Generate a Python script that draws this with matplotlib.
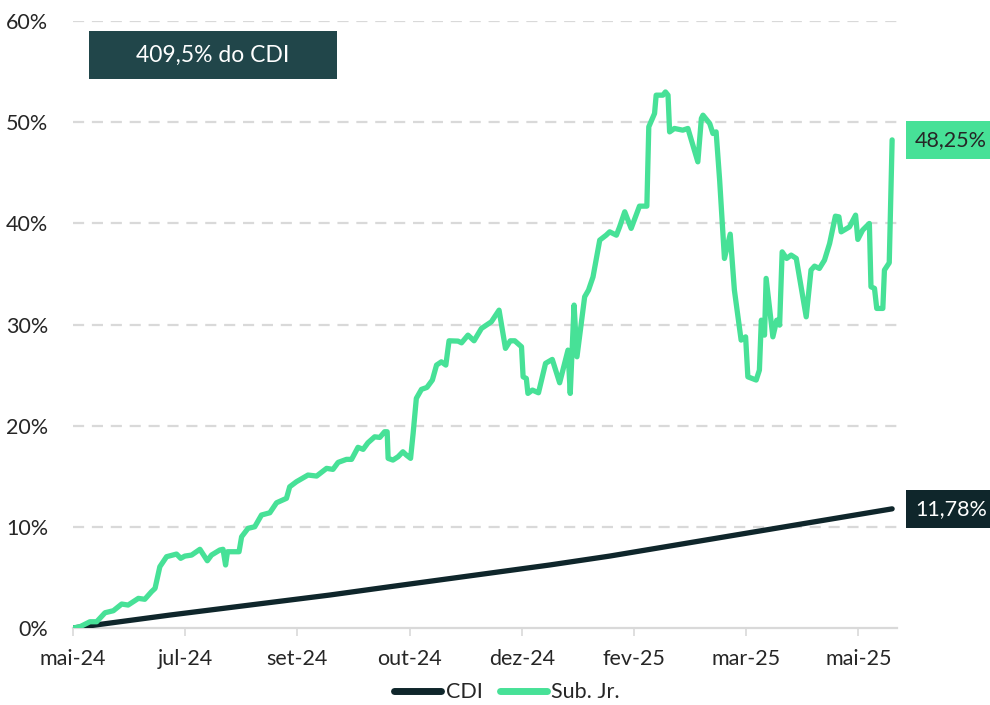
import matplotlib
matplotlib.use("Agg")
import matplotlib.pyplot as plt
import matplotlib.transforms as mtransforms
from matplotlib.patches import Rectangle

plt.rcParams['font.family'] = ['Lato', 'DejaVu Sans']

# ---- data (x = trading-day index, y = cumulative return %) ----
tick_labels = ["mai-24", "jul-24", "set-24", "out-24", "dez-24", "fev-25", "mar-25", "mai-25"]
tick_step = 35

sub_x = [0, 2.2, 5.3, 7.4, 10.0, 12.6, 15.2, 17.2, 20.4, 22.4, 24.5, 25.6, 27.1, 29.2, 32.3, 33.6,
         34.9, 37.0, 39.6, 41.9, 43.2, 45.8, 46.8, 47.6, 48.2, 51.8, 52.6, 54.6, 56.7, 58.8, 61.4,
         63.5, 66.6, 67.6, 69.7, 73.3, 76.0, 79.1, 81.1, 82.7, 85.3, 86.9, 88.9, 90.5, 92.0, 94.1,
         95.7, 97.2, 98.0, 98.3, 99.8, 101.4, 102.9, 104.0, 105.3, 106.1, 107.1, 108.7, 110.4,
         112.1, 113.4, 114.9, 116.3, 117.3, 120.1, 121.2, 123.2, 125.1, 127.4, 130.5, 132.9,
         134.9, 136.4, 137.8, 139.9, 140.4, 141.4, 141.9, 143.3, 145.2, 147.4, 149.5, 151.8,
         154.4, 155.1, 156.3, 157.2, 159.6, 160.8, 162.2, 164.3, 166.3, 167.4, 169.5, 170.5,
         172.1, 174.1, 176.7, 179.0, 179.6, 181.4, 181.9, 184.0, 184.8, 185.6, 186.1, 187.6,
         190.2, 191.8, 194.9, 196.0, 196.5, 198.6, 199.6, 200.6, 201.7, 203.2, 205.0, 206.3,
         208.4, 209.8, 210.5, 213.1, 214.1, 214.7, 215.7, 216.2, 218.3, 219.5, 220.4, 221.2,
         222.6, 224.0, 225.6, 228.7, 230.2, 231.3, 232.8, 234.4, 236.0, 237.8, 238.9, 239.6,
         242.2, 244.1, 244.8, 246.3, 248.4, 248.9, 250.0, 250.7, 252.6, 253.1, 254.6, 255.5]
sub_y = [0.0, 0.13, 0.62, 0.62, 1.51, 1.71, 2.37, 2.27, 2.93, 2.84, 3.59, 3.92, 6.06, 7.05, 7.31, 6.89,
         7.11, 7.21, 7.78, 6.65, 7.21, 7.71, 7.78, 6.23, 7.54, 7.54, 9.02, 9.85, 10.01, 11.17, 11.39,
         12.38, 12.82, 13.96, 14.46, 15.12, 15.02, 15.78, 15.68, 16.37, 16.67, 16.67, 17.86, 17.66, 18.31, 18.90,
         18.84, 19.40, 19.40, 16.77, 16.60, 16.93, 17.42, 17.09, 16.77, 19.24, 22.70, 23.59, 23.78,
         24.51, 25.99, 26.31, 25.99, 28.39, 28.36, 28.19, 28.95, 28.39, 29.61, 30.27, 31.42,
         27.64, 28.39, 28.39, 27.80, 24.83, 24.67, 23.19, 23.52, 23.25, 26.16, 26.55, 24.24,
         27.47, 23.19, 31.92, 26.81, 32.74, 33.40, 34.70, 38.34, 38.83, 39.16, 38.83, 39.65,
         41.14, 39.50, 41.70, 41.70, 49.54, 50.86, 52.67, 52.67, 52.99, 52.67, 49.04, 49.38,
         49.21, 49.38, 46.08, 50.37, 50.69, 49.87, 48.88, 49.04, 44.27, 36.53, 38.93, 33.40,
         28.46, 28.78, 24.83, 24.51, 25.49, 30.43, 28.95, 34.56, 28.78, 30.43, 29.94, 37.18,
         36.53, 36.86, 36.53, 30.76, 35.38, 35.77, 35.54, 36.36, 38.01, 40.71, 40.64, 39.16,
         39.65, 40.81, 38.41, 39.33, 39.99, 33.73, 33.57, 31.59, 31.59, 35.38, 36.10, 48.25]

cdi_x = [0, 30.2, 80.1, 98.8, 148.7, 167.4, 217.2, 226.6, 255.5]
cdi_y = [0.0, 1.28, 3.26, 4.08, 6.23, 7.11, 9.75, 10.25, 11.78]

badge_text = "409,5% do CDI"
sub_last_label = "48,25%"
cdi_last_label = "11,78%"

GREEN = "#47E197"
DARK = "#0F262B"
BADGE = "#21464A"
TEXT = "#262626"
GRID = "#D9D9D9"

fig = plt.figure(figsize=(9.9, 7.05), dpi=100)
ax = fig.add_axes([0.0737, 0.1092, 0.8323, 0.861])

ax.set_ylim(0, 60)
ax.set_xlim(0, 257)

ax.set_yticks(range(0, 61, 10))
ax.set_yticklabels([f"{v}%" for v in range(0, 61, 10)], fontsize=15.5, color=TEXT)
for v in range(10, 61, 10):
    ax.axhline(v, color=GRID, lw=1.6, dashes=(5, 3.5), zorder=0)

ax.set_xticks([i * tick_step for i in range(len(tick_labels))])
ax.set_xticklabels(tick_labels, fontsize=15.5, color=TEXT)
ax.tick_params(axis='x', length=6, width=1.2, color=GRID, pad=9)
ax.tick_params(axis='y', length=0, pad=18)
for s in ['top', 'right', 'left']:
    ax.spines[s].set_visible(False)
ax.spines['bottom'].set_color(GRID)
ax.spines['bottom'].set_linewidth(1.6)

l1, = ax.plot(cdi_x, cdi_y, color=DARK, lw=3.8, solid_capstyle='round', solid_joinstyle='round',
              label="CDI", zorder=3)
l2, = ax.plot(sub_x, sub_y, color=GREEN, lw=3.8, solid_capstyle='round', solid_joinstyle='round',
              label="Sub. Jr.", zorder=4)

trans = mtransforms.blended_transform_factory(ax.transAxes, ax.transData)
ax.text(1.022, sub_y[-1], sub_last_label, transform=trans, fontsize=15.5, color=TEXT,
        va='center', ha='left', clip_on=False,
        bbox=dict(boxstyle='square,pad=0.42', fc=GREEN, ec='none'))
ax.text(1.022, cdi_y[-1], cdi_last_label, transform=trans, fontsize=15.5, color='white',
        va='center', ha='left', clip_on=False,
        bbox=dict(boxstyle='square,pad=0.42', fc=DARK, ec='none'))

ax.add_patch(Rectangle((0.0194, 0.9044), 0.3010, 0.0791, transform=ax.transAxes,
                       fc=BADGE, ec='none', clip_on=False, zorder=5))
ax.text(0.1699, 0.944, badge_text, transform=ax.transAxes, fontsize=16.5, color='white',
        va='center', ha='center', zorder=6)

leg = fig.legend(handles=[l1, l2], loc='center', bbox_to_anchor=(0.512, 0.018), ncol=2,
                 frameon=False, fontsize=15.5, handlelength=2.2, handletextpad=0.2,
                 columnspacing=0.8)
for t in leg.get_texts():
    t.set_color(TEXT)
for h in leg.legend_handles:
    h.set_linewidth(5)

fig.savefig("out.png", dpi=100)
